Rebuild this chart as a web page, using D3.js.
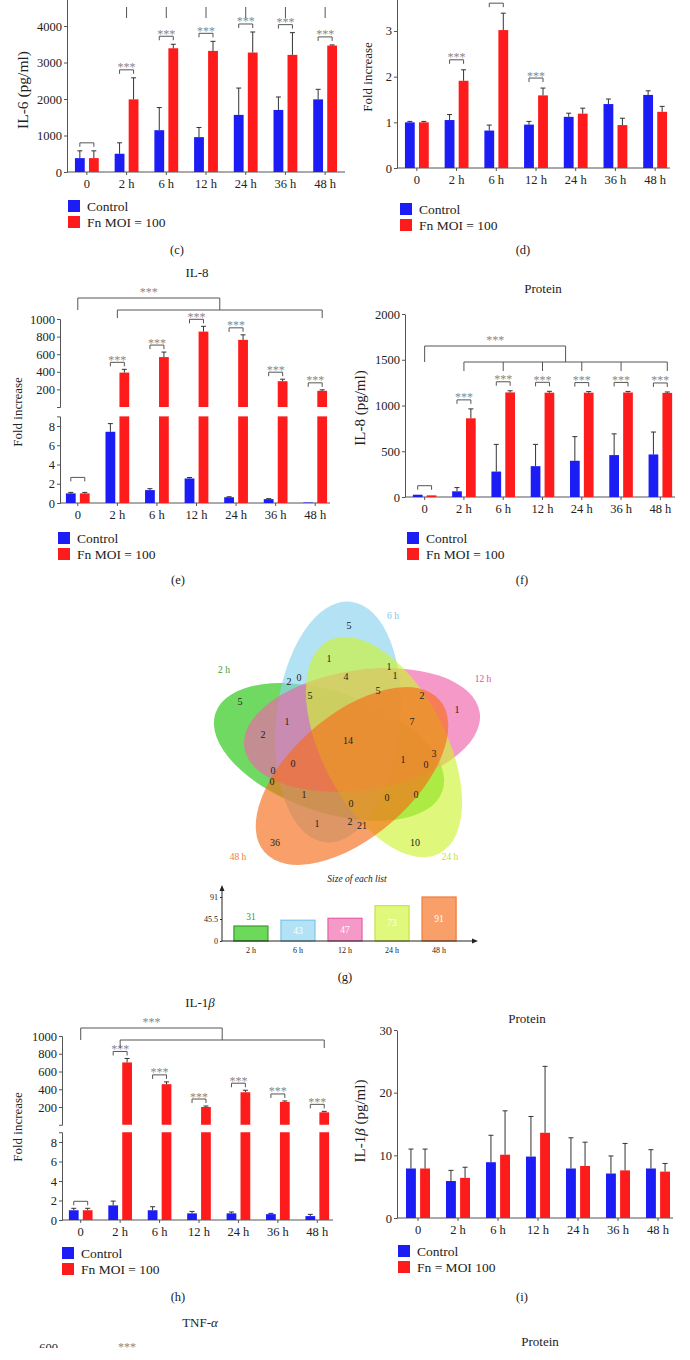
<!DOCTYPE html>
<html lang="en">
<head>
<meta charset="utf-8" />
<title>Fn time course panels</title>
<script src="https://d3js.org/d3.v7.min.js"></script>
<style>
  body { margin: 0; background: #fff; }
  svg { display: block; }
  svg text { font-family: "Liberation Serif", "DejaVu Serif", serif; }
</style>
</head>
<body>
<svg id="fig" width="690" height="1360"></svg>
<script>
// ---------- data ----------
const times = ["0", "2 h", "6 h", "12 h", "24 h", "36 h", "48 h"];

// (c) IL-6 protein (pg/ml)
const il6Ctrl = [380, 500, 1145, 955, 1565, 1700, 1990];
const il6CtrlSd = [200, 300, 620, 265, 735, 355, 275];
const il6Fn = [380, 1990, 3390, 3318, 3273, 3209, 3464];
const il6FnSd = [200, 590, 110, 262, 563, 609, 18];

// (d) IL-6 fold increase
const il6FoldCtrl = [1.0, 1.05, 0.82, 0.95, 1.12, 1.4, 1.6];
const il6FoldCtrlSd = [0.02, 0.12, 0.12, 0.07, 0.08, 0.11, 0.09];
const il6FoldFn = [1.0, 1.91, 3.02, 1.59, 1.19, 0.94, 1.23];
const il6FoldFnSd = [0.02, 0.24, 0.37, 0.16, 0.12, 0.15, 0.12];

// (e) IL-8 fold increase
const il8FoldCtrl = [1.0, 7.4, 1.34, 2.55, 0.6, 0.4, 0.05];
const il8FoldCtrlSd = [0.1, 0.85, 0.15, 0.1, 0.05, 0.05, 0];
const il8FoldFn = [1.0, 391, 567, 857, 763, 293, 184];
const il8FoldFnSd = [0.1, 37, 57, 60, 57, 23, 11];

// (f) IL-8 protein (pg/ml)
const il8Ctrl = [25, 62, 278, 337, 396, 458, 465];
const il8CtrlSd = [0, 41, 297, 238, 264, 232, 245];
const il8Fn = [18, 860, 1143, 1140, 1140, 1142, 1138];
const il8FnSd = [0, 103, 18, 15, 12, 12, 10];

// (h) IL-1b fold increase
const il1bFoldCtrl = [1.0, 1.5, 1.0, 0.68, 0.68, 0.6, 0.4];
const il1bFoldCtrlSd = [0.2, 0.44, 0.36, 0.2, 0.14, 0.08, 0.18];
const il1bFoldFn = [1.0, 702, 457, 200, 366, 257, 140];
const il1bFoldFnSd = [0.2, 45, 26, 11, 23, 11, 11];

// (i) IL-1b protein (pg/ml)
const il1bCtrl = [7.9, 5.9, 8.9, 9.8, 7.9, 7.1, 7.9];
const il1bCtrlSd = [3.1, 1.7, 4.3, 6.4, 4.9, 2.8, 3.0];
const il1bFn = [7.9, 6.4, 10.1, 13.6, 8.3, 7.6, 7.4];
const il1bFnSd = [3.1, 1.7, 7.0, 10.6, 3.8, 4.3, 1.3];

// (g) venn
const vennSets = ["2 h", "6 h", "12 h", "24 h", "48 h"];
const listSizes = [31, 43, 47, 73, 91];
const regionCounts = [5, 1, 1, 2, 0, 4, 1, 5, 5, 5, 2, 1, 1, 7, 2, 14, 1, 3, 0, 0, 0, 0, 1, 0, 0, 0, 1, 2, 21, 36, 10];

// ---------- layout ----------
const FONT = '"Liberation Serif", "DejaVu Serif", serif';
const BLUE = "#1c1cf5", RED = "#fe1b1b";
const svg = d3.select("#fig").attr("font-family", FONT);
const fmt = d => String(d);

function styleAxis(sel) {
  sel.selectAll("path, line").attr("stroke", "#555").attr("stroke-width", 1);
  sel.selectAll("text").attr("font-size", 12.5).attr("fill", "#222").attr("font-family", FONT);
}

function panel(o) {
  const g = svg.append("g");
  const x = d3.scaleBand().domain(times).range(o.xRange);
  const sub = d3.scaleBand().domain(["ctrl", "fn"])
    .range([x.bandwidth() * 0.2, x.bandwidth() * 0.8]).paddingInner(0.3);
  const mid = t => x(t) + x.bandwidth() / 2;
  const barMid = (t, k) => x(t) + sub(k) + sub.bandwidth() / 2;

  let y, yLo, yHi;
  if (o.broken) {
    const b = o.broken;
    yLo = d3.scaleLinear().domain([0, b.loMax]).range([o.base, b.loTop]);
    yHi = d3.scaleLinear().domain([0, b.hiMax]).range([b.hiBottom, b.hiTop]);
    y = v => v <= b.loMax ? yLo(v) : yHi(v);
    g.append("g").attr("transform", `translate(${o.axisX},0)`)
      .call(d3.axisLeft(yLo).tickValues(b.loTicks).tickFormat(fmt).tickSize(3).tickSizeOuter(3).tickPadding(2)).call(styleAxis);
    g.append("g").attr("transform", `translate(${o.axisX},0)`)
      .call(d3.axisLeft(yHi).tickValues(b.hiTicks).tickFormat(fmt).tickSize(3).tickSizeOuter(3).tickPadding(2)).call(styleAxis);
  } else {
    y = d3.scaleLinear().domain([0, o.yMax]).range([o.base, o.yTop]);
    g.append("g").attr("transform", `translate(${o.axisX},0)`)
      .call(d3.axisLeft(y).tickValues(o.yTicks).tickFormat(fmt).tickSize(3).tickSizeOuter(0).tickPadding(2)).call(styleAxis);
  }

  // x axis
  g.append("g").attr("transform", `translate(0,${o.base})`)
    .call(d3.axisBottom(x).tickSize(3).tickSizeOuter(0).tickPadding(4))
    .call(styleAxis).call(a => a.select(".domain").remove());
  g.append("line").attr("x1", o.axisX).attr("x2", o.axisEnd)
    .attr("y1", o.base).attr("y2", o.base).attr("stroke", "#555");

  const series = [
    { key: "ctrl", vals: o.ctrl, sd: o.ctrlSd, color: BLUE },
    { key: "fn", vals: o.fn, sd: o.fnSd, color: RED }
  ];
  const rows = series.flatMap(s => times.map((t, i) => ({ t, i, key: s.key, v: s.vals[i], sd: s.sd[i], color: s.color })));

  const segs = rows.flatMap(r => {
    if (o.broken && r.v > o.broken.loMax) {
      return [{ ...r, y0: o.base, y1: yLo(o.broken.loMax) }, { ...r, y0: o.broken.hiBottom, y1: yHi(r.v) }];
    }
    return [{ ...r, y0: o.base, y1: y(r.v) }];
  });

  g.selectAll("rect.bar").data(segs).join("rect").attr("class", "bar")
    .attr("x", d => x(d.t) + sub(d.key)).attr("width", sub.bandwidth())
    .attr("y", d => d.y1).attr("height", d => d.y0 - d.y1)
    .attr("fill", d => d.color);

  // error bars (upper only)
  const err = rows.filter(r => r.sd > 0);
  g.selectAll("path.err").data(err).join("path").attr("class", "err")
    .attr("d", d => {
      const cx = barMid(d.t, d.key), y0 = y(d.v), y1 = y(d.v + d.sd);
      return `M${cx},${y0}V${y1}M${cx - 2.5},${y1}H${cx + 2.5}`;
    })
    .attr("fill", "none").attr("stroke", "#333").attr("stroke-width", 1);

  // pair brackets
  times.forEach((t, i) => {
    const m = o.marks[i];
    if (!m) return;
    const top = Math.min(y(o.ctrl[i] + o.ctrlSd[i]), y(o.fn[i] + o.fnSd[i]));
    const yb = top - (i === 0 && o.gap0 ? o.gap0 : o.gap);
    const x1 = barMid(t, "ctrl"), x2 = barMid(t, "fn");
    g.append("path").attr("d", `M${x1},${yb + 4}V${yb}H${x2}V${yb + 4}`)
      .attr("fill", "none").attr("stroke", "#555");
    if (m === 2) {
      g.append("text").attr("x", (x1 + x2) / 2).attr("y", yb + 1.5)
        .attr("text-anchor", "middle").attr("font-size", 12).attr("fill", "#888").text("***");
    }
  });

  // long brackets
  if (o.big) {
    const bb = o.big;
    const xA0 = mid(times[0]), xB0 = mid(times[1]), xB1 = barMid(times[6], "fn");
    const xA1 = (xB0 + xB1) / 2;
    g.append("path").attr("d", `M${xA0},${bb.yB}V${bb.yA}H${xA1}V${bb.yB}`)
      .attr("fill", "none").attr("stroke", "#555");
    let d = `M${xB0},${bb.yB + bb.drop}V${bb.yB}H${xB1}V${bb.yB + bb.drop}`;
    if (bb.allLegs) times.slice(2, 6).forEach(t => { d += `M${mid(t)},${bb.yB}V${bb.yB + bb.drop}`; });
    g.append("path").attr("d", d).attr("fill", "none").attr("stroke", "#555");
    g.append("text").attr("x", (xA0 + xA1) / 2).attr("y", bb.yA - 2)
      .attr("text-anchor", "middle").attr("font-size", 12).attr("fill", "#888").text("***");
  }

  if (o.topLegs) {
    times.slice(1).forEach(t => {
      g.append("line").attr("x1", mid(t)).attr("x2", mid(t))
        .attr("y1", o.topLegs[0]).attr("y2", o.topLegs[1]).attr("stroke", "#555");
    });
  }

  // y label
  const yl = g.append("text").attr("transform", `translate(${o.yLabel[1]},${o.yLabel[2]}) rotate(-90)`)
    .attr("text-anchor", "middle").attr("font-size", o.yLabel[3]).attr("fill", "#222");
  o.yLabel[0].forEach(p => yl.append("tspan").attr("font-style", p.i ? "italic" : null).text(p.s));

  if (o.title) {
    const tt = g.append("text").attr("x", o.title[1]).attr("y", o.title[2])
      .attr("text-anchor", "middle").attr("font-size", 13).attr("fill", "#222");
    o.title[0].forEach(p => tt.append("tspan").attr("font-style", p.i ? "italic" : null).text(p.s));
  }

  // legend
  const lg = g.append("g").attr("transform", `translate(${o.legend[0]},${o.legend[1]})`);
  [["Control", BLUE], [o.fnLabel, RED]].forEach((e, k) => {
    lg.append("rect").attr("x", 0).attr("y", k * 16).attr("width", 12).attr("height", 12).attr("fill", e[1]);
    lg.append("text").attr("x", 19).attr("y", k * 16 + 11).attr("font-size", 13.5).attr("fill", "#222").text(e[0]);
  });

  svg.append("text").attr("x", o.tag[1]).attr("y", o.tag[2]).attr("text-anchor", "middle")
    .attr("font-size", 12.5).attr("fill", "#222").text(o.tag[0]);
}

panel({
  xRange: [67, 345], axisX: 67, axisEnd: 345, base: 172, yMax: 4800, yTop: 172 - 4.8 * 36.5,
  yTicks: [0, 1000, 2000, 3000, 4000],
  ctrl: il6Ctrl, ctrlSd: il6CtrlSd, fn: il6Fn, fnSd: il6FnSd,
  marks: [1, 2, 2, 2, 2, 2, 2], gap: 8, topLegs: [7, 18],
  yLabel: [[{ s: "IL-6 (pg/ml)" }], 28, 90, 15.5],
  legend: [68, 200], fnLabel: "Fn MOI = 100", tag: ["(c)", 177, 254]
});

panel({
  xRange: [397, 675], axisX: 397, axisEnd: 670, base: 168, yMax: 3.7, yTop: 168 - 3.7 * 45.67,
  yTicks: [0, 1, 2, 3],
  ctrl: il6FoldCtrl, ctrlSd: il6FoldCtrlSd, fn: il6FoldFn, fnSd: il6FoldFnSd,
  marks: [0, 2, 1, 2, 0, 0, 0], gap: 10,
  yLabel: [[{ s: "Fold increase" }], 372, 77, 13],
  legend: [400, 203], fnLabel: "Fn MOI = 100", tag: ["(d)", 523, 254]
});

panel({
  xRange: [58, 335], axisX: 60, axisEnd: 330, base: 503,
  broken: { loMax: 9, loTop: 503 - 9 * 9.625, loTicks: [0, 2, 4, 6, 8], hiMax: 1000, hiBottom: 407, hiTop: 319, hiTicks: [200, 400, 600, 800, 1000] },
  ctrl: il8FoldCtrl, ctrlSd: il8FoldCtrlSd, fn: il8FoldFn, fnSd: il8FoldFnSd,
  marks: [1, 2, 2, 2, 2, 2, 2], gap: 7, gap0: 15,
  big: { yA: 298, yB: 310, drop: 8 },
  title: [[{ s: "IL-8" }], 197, 277],
  yLabel: [[{ s: "Fold increase" }], 22, 412, 13],
  legend: [58, 532], fnLabel: "Fn MOI = 100", tag: ["(e)", 178, 584]
});

panel({
  xRange: [405, 680], axisX: 405, axisEnd: 675, base: 497, yMax: 2000, yTop: 314,
  yTicks: [0, 500, 1000, 1500, 2000],
  ctrl: il8Ctrl, ctrlSd: il8CtrlSd, fn: il8Fn, fnSd: il8FnSd,
  marks: [1, 2, 2, 2, 2, 2, 2], gap: 9,
  big: { yA: 346, yB: 362, drop: 9, allLegs: true },
  title: [[{ s: "Protein" }], 543, 293],
  yLabel: [[{ s: "IL-8 (pg/ml)" }], 365, 408, 15],
  legend: [407, 532], fnLabel: "Fn MOI = 100", tag: ["(f)", 522, 584]
});

panel({
  xRange: [61, 337], axisX: 62, axisEnd: 333, base: 1220,
  broken: { loMax: 9, loTop: 1220 - 9 * 9.75, loTicks: [0, 2, 4, 6, 8], hiMax: 1000, hiBottom: 1124.75, hiTop: 1036, hiTicks: [200, 400, 600, 800, 1000] },
  ctrl: il1bFoldCtrl, ctrlSd: il1bFoldCtrlSd, fn: il1bFoldFn, fnSd: il1bFoldFnSd,
  marks: [1, 2, 2, 2, 2, 2, 2], gap: 7,
  big: { yA: 1028, yB: 1040, drop: 8 },
  title: [[{ s: "IL-1" }, { s: "β", i: true }], 200, 1007],
  yLabel: [[{ s: "Fold increase" }], 22, 1127, 13],
  legend: [62, 1247], fnLabel: "Fn MOI = 100", tag: ["(h)", 178, 1301]
});

panel({
  xRange: [398, 678], axisX: 397, axisEnd: 673, base: 1218, yMax: 30, yTop: 1030,
  yTicks: [0, 10, 20, 30],
  ctrl: il1bCtrl, ctrlSd: il1bCtrlSd, fn: il1bFn, fnSd: il1bFnSd,
  marks: [0, 0, 0, 0, 0, 0, 0], gap: 8,
  title: [[{ s: "Protein" }], 527, 1023],
  yLabel: [[{ s: "IL-1" }, { s: "β", i: true }, { s: " (pg/ml)" }], 365, 1121, 15],
  legend: [398, 1245], fnLabel: "Fn = MOI 100", tag: ["(i)", 522, 1301]
});

// ---------- (g) venn ----------
const vennShapes = [
  { cx: 329, cy: 752, rx: 120, ry: 60, rot: 19 },
  { cx: 338, cy: 722, rx: 121, ry: 62, rot: -84 },
  { cx: 362, cy: 730, rx: 119, ry: 60, rot: -8.5 },
  { cx: 384, cy: 747, rx: 120, ry: 62, rot: 62.5 },
  { cx: 352, cy: 776, rx: 116, ry: 61, rot: -41 }
];
const vennFill = ["#22c50e", "#8ad2f0", "#f064aa", "#cef332", "#f66d1a"];
const vennText = ["#3a9a2a", "#7ec3ea", "#e0508f", "#c2de3c", "#f07c3c"];
const setLabelXY = [[224, 673], [393, 619], [483, 682], [450, 860], [238, 860]];
const regionXY = [
  [349, 625], [329, 658], [389, 666], [289, 681], [299, 677], [346, 676], [395, 675],
  [240, 701], [310, 695], [378, 690], [422, 695], [457, 709], [287, 721], [412, 721],
  [263, 734], [348, 740], [403, 759], [434, 753], [293, 763], [426, 764], [273, 770],
  [272, 781], [304, 794], [416, 794], [387, 797], [351, 803], [317, 823], [350, 821],
  [362, 825], [275, 842], [415, 842]
];

const vg = svg.append("g");
vg.selectAll("ellipse").data(vennShapes).join("ellipse")
  .attr("cx", d => d.cx).attr("cy", d => d.cy).attr("rx", d => d.rx).attr("ry", d => d.ry)
  .attr("transform", d => `rotate(${d.rot},${d.cx},${d.cy})`)
  .attr("fill", (d, i) => vennFill[i]).attr("fill-opacity", 0.65);
vg.selectAll("text.set").data(vennSets).join("text").attr("class", "set")
  .attr("x", (d, i) => setLabelXY[i][0]).attr("y", (d, i) => setLabelXY[i][1])
  .attr("text-anchor", "middle").attr("font-size", 9.5).attr("fill", (d, i) => vennText[i]).text(d => d);
vg.selectAll("text.cnt").data(regionCounts).join("text").attr("class", "cnt")
  .attr("x", (d, i) => regionXY[i][0]).attr("y", (d, i) => regionXY[i][1] + 3.5)
  .attr("text-anchor", "middle").attr("font-size", 10).attr("fill", "#222").text(d => d);

// size of each list
const barFill = ["#6cd95a", "#b3e2f5", "#f59ac8", "#e0f87c", "#f9a06a"];
const barStroke = ["#3d9a2e", "#7cc5ea", "#e65fa5", "#c6e342", "#f07a35"];
const ig = svg.append("g");
const ix = d3.scaleBand().domain(vennSets).range([224, 466]).paddingInner(0.255).paddingOuter(0.2);
const iy = d3.scaleLinear().domain([0, 91]).range([941, 897]);
ig.append("text").attr("x", 357).attr("y", 882).attr("text-anchor", "middle")
  .attr("font-size", 9.5).attr("font-style", "italic").attr("fill", "#222").text("Size of each list");
ig.selectAll("rect").data(listSizes).join("rect")
  .attr("x", (d, i) => ix(vennSets[i]) + 0.5).attr("width", ix.bandwidth() - 1)
  .attr("y", d => iy(d)).attr("height", d => iy(0) - iy(d))
  .attr("fill", (d, i) => barFill[i]).attr("stroke", (d, i) => barStroke[i]).attr("stroke-width", 1.2);
ig.selectAll("text.v").data(listSizes).join("text").attr("class", "v")
  .attr("x", (d, i) => ix(vennSets[i]) + ix.bandwidth() / 2)
  .attr("y", d => (iy(0) - iy(d) < 18 ? iy(d) - 6 : (iy(0) + iy(d)) / 2 + 3))
  .attr("text-anchor", "middle").attr("font-size", 9.5)
  .attr("fill", (d, i) => (iy(0) - iy(d) < 18 ? barStroke[i] : "#fff")).text(d => d);
ig.append("g").attr("transform", "translate(222,0)")
  .call(d3.axisLeft(iy).tickValues([0, 45.5, 91]).tickFormat(fmt).tickSize(2).tickPadding(2).tickSizeOuter(0))
  .call(a => { a.select(".domain").remove(); a.selectAll("line").attr("stroke", "#333");
    a.selectAll("text").attr("font-size", 8).attr("fill", "#222").attr("font-family", FONT); });
ig.append("g").attr("transform", "translate(0,941)")
  .call(d3.axisBottom(ix).tickSize(0).tickPadding(6))
  .call(a => { a.select(".domain").remove();
    a.selectAll("text").attr("font-size", 8).attr("fill", "#222").attr("font-family", FONT); });
ig.append("path").attr("d", "M222,941V889M222,941H474").attr("stroke", "#222").attr("fill", "none");
ig.append("path").attr("d", "M222,885L219.5,891H224.5Z M478,941L472,938.5V943.5Z").attr("fill", "#222");
svg.append("text").attr("x", 345).attr("y", 981).attr("text-anchor", "middle")
  .attr("font-size", 12.5).attr("fill", "#222").text("(g)");

// ---------- next row (cut off) ----------
svg.append("clipPath").attr("id", "cut").append("rect").attr("x", 0).attr("y", 0).attr("width", 690).attr("height", 1348);
const tnf = svg.append("text").attr("x", 200).attr("y", 1327).attr("text-anchor", "middle")
  .attr("font-size", 13).attr("fill", "#222");
tnf.append("tspan").text("TNF-");
tnf.append("tspan").attr("font-style", "italic").text("α");
svg.append("text").attr("x", 58).attr("y", 1352).attr("text-anchor", "end").attr("clip-path", "url(#cut)")
  .attr("font-size", 12.5).attr("fill", "#222").text("600");
svg.append("text").attr("x", 127).attr("y", 1351).attr("text-anchor", "middle")
  .attr("font-size", 12).attr("fill", "#888").text("***");
svg.append("text").attr("x", 540).attr("y", 1346).attr("text-anchor", "middle")
  .attr("font-size", 13).attr("fill", "#222").text("Protein");
</script>
</body>
</html>
